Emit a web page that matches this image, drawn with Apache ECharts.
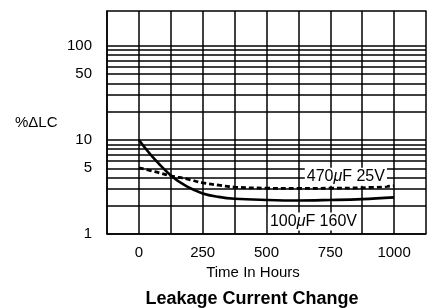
<!DOCTYPE html>
<html>
<head>
<meta charset="utf-8">
<script src="https://cdn.jsdelivr.net/npm/echarts@6/dist/echarts.min.js"></script>
<style>html,body{margin:0;padding:0;background:#fff;}#c{width:429px;height:308px;}</style>
</head>
<body>
<div id="c"></div>
<script>
// Time in hours
const hours100 = [0, 62.5, 125, 187.5, 250, 312.5, 375, 500, 625, 750, 875, 1000];
// 100uF 160V (solid)
const lc100uF160V = [10, 6.2, 4.2, 3.2, 2.7, 2.48, 2.37, 2.3, 2.27, 2.3, 2.35, 2.45];
const hours470 = [0, 62.5, 125, 187.5, 250, 312.5, 375, 500, 625, 750, 875, 1000];
// 470uF 25V (dashed)
const lc470uF25V = [5.05, 4.6, 4.15, 3.85, 3.5, 3.3, 3.15, 3.07, 3.05, 3.07, 3.1, 3.25];
// x tick labels shown
const xTickLabels = [0, 250, 500, 750, 1000];
// y grid lines and labels (log axis)
const yGridValues = [1, 2, 3, 4, 5, 6, 7, 8, 9, 10, 20, 30, 40, 50, 60, 70, 80, 90, 100];
const yTickLabels = [1, 5, 10, 50, 100];

const FONT = 'Liberation Sans, Arial, Helvetica, sans-serif';
const chart = echarts.init(document.getElementById('c'), null, {renderer: 'canvas'});

const gridLines = yGridValues.map(v => ({
  yAxis: v,
  label: yTickLabels.includes(v)
    ? {show: true, position: 'start', distance: 15, formatter: String(v), color: '#000', fontSize: 15, fontFamily: FONT}
    : {show: false}
}));

const option = {
  animation: false,
  textStyle: {fontFamily: FONT},
  grid: {left: 107, top: 11, right: 2, bottom: 74, containLabel: false},
  xAxis: [{
    type: 'value', min: -125, max: 1125, interval: 125,
    axisLine: {show: true, onZero: false, lineStyle: {color: '#000', width: 1.5}},
    axisTick: {show: false},
    splitLine: {show: true, lineStyle: {color: '#000', width: 1.5}},
    axisLabel: {
      color: '#000', fontSize: 15, margin: 11, fontFamily: FONT,
      formatter: v => xTickLabels.includes(v) ? String(v) : ''
    }
  }, {
    type: 'value', min: -125, max: 1125, position: 'top',
    axisLine: {show: true, onZero: false, lineStyle: {color: '#000', width: 1.5}},
    axisTick: {show: false}, axisLabel: {show: false}, splitLine: {show: false}
  }],
  yAxis: {
    type: 'log', logBase: 10, min: 1, max: 235,
    axisLine: {show: true, onZero: false, lineStyle: {color: '#000', width: 1.5}},
    axisTick: {show: false},
    axisLabel: {show: false},
    splitLine: {show: false}
  },
  graphic: [
    {type: 'text', left: 15, top: 115, style: {text: '%ΔLC', fontSize: 15, fontFamily: FONT, fill: '#000'}},
    {type: 'text', x: 253, y: 273, style: {text: 'Time In Hours', fontSize: 15, fontFamily: FONT, fill: '#000', textAlign: 'center', textVerticalAlign: 'middle'}},
    {type: 'text', x: 252, y: 299, style: {text: 'Leakage Current Change', fontSize: 18, fontWeight: 'bold', fontFamily: FONT, fill: '#000', textAlign: 'center', textVerticalAlign: 'middle'}}
  ],
  series: [
    {
      name: 'grid', type: 'line', data: [], z: 1, silent: true,
      markLine: {
        z: 1, silent: true, symbol: ['none', 'none'], animation: false,
        lineStyle: {color: '#000', width: 1.5, type: 'solid'},
        emphasis: {disabled: true},
        data: gridLines
      }
    },
    {
      name: '100µF 160V', type: 'line', smooth: 0.4, showSymbol: false, z: 5,
      data: hours100.map((h, i) => [h, lc100uF160V[i]]),
      lineStyle: {color: '#000', width: 2.6, type: 'solid'},
      markPoint: {
        z: 6, symbol: 'rect', symbolSize: 1, itemStyle: {color: 'rgba(0,0,0,0)'},
        data: [{coord: [684, 1.36], value: '100µF 160V'}],
        label: {
          show: true, position: 'inside', backgroundColor: '#fff', padding: [1, 2],
          formatter: '{n|100}{i|μ}{n|F 160V}',
          rich: {n: {fontSize: 16, color: '#000', fontFamily: FONT}, i: {fontSize: 16, color: '#000', fontStyle: 'italic', fontFamily: FONT}}
        }
      }
    },
    {
      name: '470µF 25V', type: 'line', smooth: 0.4, showSymbol: false, z: 5,
      data: hours470.map((h, i) => [h, lc470uF25V[i]]),
      lineStyle: {color: '#000', width: 2.8, type: [5, 3]},
      markPoint: {
        z: 6, symbol: 'rect', symbolSize: 1, itemStyle: {color: 'rgba(0,0,0,0)'},
        data: [{coord: [811, 4.05], value: '470µF 25V'}],
        label: {
          show: true, position: 'inside', backgroundColor: '#fff', padding: [1, 2],
          formatter: '{n|470}{i|μ}{n|F 25V}',
          rich: {n: {fontSize: 16, color: '#000', fontFamily: FONT}, i: {fontSize: 16, color: '#000', fontStyle: 'italic', fontFamily: FONT}}
        }
      }
    }
  ]
};
chart.setOption(option);
</script>
</body>
</html>
